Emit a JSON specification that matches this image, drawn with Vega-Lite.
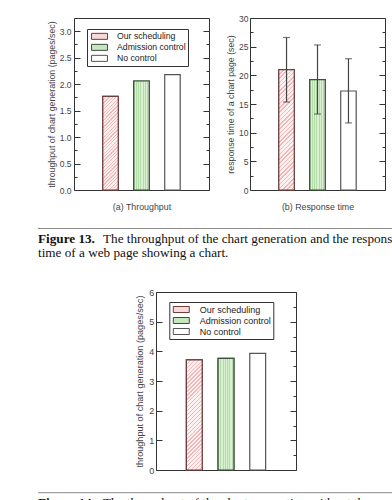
{
  "$schema": "https://vega.github.io/schema/vega-lite/v6.json",
  "padding": {"left": 37, "top": 13, "right": 0, "bottom": 0},
  "background": "white",
  "spacing": 15.5,
  "resolve": {"scale": {"fill": "independent", "stroke": "independent"}, "legend": {"fill": "independent"}},
  "vconcat": [
    {
      "hconcat": [
        {
          "width": 135, "height": 172,
          "data": {"values": [
            {"control": "Our scheduling", "throughput": 1.77},
            {"control": "Admission control", "throughput": 2.06},
            {"control": "No control", "throughput": 2.18}
          ]},
          "layer": [
            {
              "mark": {"type": "bar", "strokeWidth": 1.2},
              "encoding": {
                "x": {"field": "control", "type": "nominal", "sort": ["Our scheduling", "Admission control", "No control"],
                      "scale": {"paddingInner": 0.5, "paddingOuter": 0.93},
                      "axis": {"title": "(a) Throughput", "labels": false, "ticks": false, "domain": false, "titlePadding": 12, "titleFontSize": 8.85}},
                "y": {"field": "throughput", "type": "quantitative", "scale": {"domain": [0, 3.25], "nice": false},
                      "axis": {"orient": "left", "title": "throughput of chart generation (pages/sec)",
                               "values": [0, 0.25, 0.5, 0.75, 1, 1.25, 1.5, 1.75, 2, 2.25, 2.5, 2.75, 3],
                               "format": ".1f", "labelExpr": "datum.value % 0.5 === 0 ? datum.label : ''",
                               "tickSize": {"condition": {"test": "datum.value % 0.5 === 0", "value": -6}, "value": -3},
                               "labelPadding": 9, "labelFontSize": 8.5, "titleFontSize": 8.8, "titlePadding": 3}},
                "fill": {"field": "control", "type": "nominal",
                         "scale": {"domain": ["Our scheduling", "Admission control", "No control"], "range": ["#f9d8d8", "#c6e6bd", "#ffffff"]},
                         "legend": {"title": null, "orient": "none", "legendX": 13, "legendY": 11, "strokeColor": "#333", "padding": 2,
                                    "symbolType": "M-1,-0.375H1V0.375H-1Z", "symbolSize": 256, "symbolStrokeColor": "#333", "symbolStrokeWidth": 1,
                                    "symbolOffset": 2, "labelOffset": 9, "labelFontSize": 8.7, "clipHeight": 10.7, "rowPadding": 0, "fillColor": "white",
                                    "encode": {"symbols": {"update": {"fill": [
                                      {"test": "datum.value === 'Our scheduling'", "value": {"gradient": "linear", "x1": 0, "y1": 0, "x2": 1.2055, "y2": 0.4521, "stops": [
                                        {"offset": 0, "color": "#f2b8b8"}, {"offset": 0.0583, "color": "#f2b8b8"}, {"offset": 0.0583, "color": "#fdf1f1"}, {"offset": 0.1667, "color": "#fdf1f1"},
                                        {"offset": 0.1667, "color": "#f2b8b8"}, {"offset": 0.225, "color": "#f2b8b8"}, {"offset": 0.225, "color": "#fdf1f1"}, {"offset": 0.3333, "color": "#fdf1f1"},
                                        {"offset": 0.3333, "color": "#f2b8b8"}, {"offset": 0.3917, "color": "#f2b8b8"}, {"offset": 0.3917, "color": "#fdf1f1"}, {"offset": 0.5, "color": "#fdf1f1"},
                                        {"offset": 0.5, "color": "#f2b8b8"}, {"offset": 0.5583, "color": "#f2b8b8"}, {"offset": 0.5583, "color": "#fdf1f1"}, {"offset": 0.6667, "color": "#fdf1f1"},
                                        {"offset": 0.6667, "color": "#f2b8b8"}, {"offset": 0.725, "color": "#f2b8b8"}, {"offset": 0.725, "color": "#fdf1f1"}, {"offset": 0.8333, "color": "#fdf1f1"},
                                        {"offset": 0.8333, "color": "#f2b8b8"}, {"offset": 0.8917, "color": "#f2b8b8"}, {"offset": 0.8917, "color": "#fdf1f1"}, {"offset": 1, "color": "#fdf1f1"}]}},
                                      {"test": "datum.value === 'Admission control'", "value": {"gradient": "linear", "x1": 0, "y1": 0, "x2": 1, "y2": 0, "stops": [
                                        {"offset": 0, "color": "#b3dba8"}, {"offset": 0.0643, "color": "#b3dba8"}, {"offset": 0.0643, "color": "#d8f1d0"}, {"offset": 0.1429, "color": "#d8f1d0"},
                                        {"offset": 0.1429, "color": "#b3dba8"}, {"offset": 0.2071, "color": "#b3dba8"}, {"offset": 0.2071, "color": "#d8f1d0"}, {"offset": 0.2857, "color": "#d8f1d0"},
                                        {"offset": 0.2857, "color": "#b3dba8"}, {"offset": 0.35, "color": "#b3dba8"}, {"offset": 0.35, "color": "#d8f1d0"}, {"offset": 0.4286, "color": "#d8f1d0"},
                                        {"offset": 0.4286, "color": "#b3dba8"}, {"offset": 0.4929, "color": "#b3dba8"}, {"offset": 0.4929, "color": "#d8f1d0"}, {"offset": 0.5714, "color": "#d8f1d0"},
                                        {"offset": 0.5714, "color": "#b3dba8"}, {"offset": 0.6357, "color": "#b3dba8"}, {"offset": 0.6357, "color": "#d8f1d0"}, {"offset": 0.7143, "color": "#d8f1d0"},
                                        {"offset": 0.7143, "color": "#b3dba8"}, {"offset": 0.7786, "color": "#b3dba8"}, {"offset": 0.7786, "color": "#d8f1d0"}, {"offset": 0.8571, "color": "#d8f1d0"},
                                        {"offset": 0.8571, "color": "#b3dba8"}, {"offset": 0.9214, "color": "#b3dba8"}, {"offset": 0.9214, "color": "#d8f1d0"}, {"offset": 1, "color": "#d8f1d0"}]}},
                                      {"value": "#ffffff"}]}}}}},
                "stroke": {"field": "control", "type": "nominal",
                           "scale": {"domain": ["Our scheduling", "Admission control", "No control"], "range": ["#6b3f3f", "#3d4f3d", "#555555"]},
                           "legend": null}
              }
            },
            {
              "transform": [{"filter": "datum.control === 'Our scheduling'"}],
              "mark": {"type": "bar", "stroke": "#6b3f3f", "strokeWidth": 1.2, "fill": {"gradient": "linear", "x1": 0, "y1": 0, "x2": 0.1877, "y2": 1.1344, "stops": [
                {"offset": 0, "color": "#f2b8b8"}, {"offset": 0.0109, "color": "#f2b8b8"}, {"offset": 0.0109, "color": "#fdf1f1"}, {"offset": 0.03125, "color": "#fdf1f1"},
                {"offset": 0.03125, "color": "#f2b8b8"}, {"offset": 0.0422, "color": "#f2b8b8"}, {"offset": 0.0422, "color": "#fdf1f1"}, {"offset": 0.0625, "color": "#fdf1f1"},
                {"offset": 0.0625, "color": "#f2b8b8"}, {"offset": 0.0734, "color": "#f2b8b8"}, {"offset": 0.0734, "color": "#fdf1f1"}, {"offset": 0.09375, "color": "#fdf1f1"},
                {"offset": 0.09375, "color": "#f2b8b8"}, {"offset": 0.1047, "color": "#f2b8b8"}, {"offset": 0.1047, "color": "#fdf1f1"}, {"offset": 0.125, "color": "#fdf1f1"},
                {"offset": 0.125, "color": "#f2b8b8"}, {"offset": 0.1359, "color": "#f2b8b8"}, {"offset": 0.1359, "color": "#fdf1f1"}, {"offset": 0.15625, "color": "#fdf1f1"},
                {"offset": 0.15625, "color": "#f2b8b8"}, {"offset": 0.1672, "color": "#f2b8b8"}, {"offset": 0.1672, "color": "#fdf1f1"}, {"offset": 0.1875, "color": "#fdf1f1"},
                {"offset": 0.1875, "color": "#f2b8b8"}, {"offset": 0.1984, "color": "#f2b8b8"}, {"offset": 0.1984, "color": "#fdf1f1"}, {"offset": 0.21875, "color": "#fdf1f1"},
                {"offset": 0.21875, "color": "#f2b8b8"}, {"offset": 0.2297, "color": "#f2b8b8"}, {"offset": 0.2297, "color": "#fdf1f1"}, {"offset": 0.25, "color": "#fdf1f1"},
                {"offset": 0.25, "color": "#f2b8b8"}, {"offset": 0.2609, "color": "#f2b8b8"}, {"offset": 0.2609, "color": "#fdf1f1"}, {"offset": 0.28125, "color": "#fdf1f1"},
                {"offset": 0.28125, "color": "#f2b8b8"}, {"offset": 0.2922, "color": "#f2b8b8"}, {"offset": 0.2922, "color": "#fdf1f1"}, {"offset": 0.3125, "color": "#fdf1f1"},
                {"offset": 0.3125, "color": "#f2b8b8"}, {"offset": 0.3234, "color": "#f2b8b8"}, {"offset": 0.3234, "color": "#fdf1f1"}, {"offset": 0.34375, "color": "#fdf1f1"},
                {"offset": 0.34375, "color": "#f2b8b8"}, {"offset": 0.3547, "color": "#f2b8b8"}, {"offset": 0.3547, "color": "#fdf1f1"}, {"offset": 0.375, "color": "#fdf1f1"},
                {"offset": 0.375, "color": "#f2b8b8"}, {"offset": 0.3859, "color": "#f2b8b8"}, {"offset": 0.3859, "color": "#fdf1f1"}, {"offset": 0.40625, "color": "#fdf1f1"},
                {"offset": 0.40625, "color": "#f2b8b8"}, {"offset": 0.4172, "color": "#f2b8b8"}, {"offset": 0.4172, "color": "#fdf1f1"}, {"offset": 0.4375, "color": "#fdf1f1"},
                {"offset": 0.4375, "color": "#f2b8b8"}, {"offset": 0.4484, "color": "#f2b8b8"}, {"offset": 0.4484, "color": "#fdf1f1"}, {"offset": 0.46875, "color": "#fdf1f1"},
                {"offset": 0.46875, "color": "#f2b8b8"}, {"offset": 0.4797, "color": "#f2b8b8"}, {"offset": 0.4797, "color": "#fdf1f1"}, {"offset": 0.5, "color": "#fdf1f1"},
                {"offset": 0.5, "color": "#f2b8b8"}, {"offset": 0.5109, "color": "#f2b8b8"}, {"offset": 0.5109, "color": "#fdf1f1"}, {"offset": 0.53125, "color": "#fdf1f1"},
                {"offset": 0.53125, "color": "#f2b8b8"}, {"offset": 0.5422, "color": "#f2b8b8"}, {"offset": 0.5422, "color": "#fdf1f1"}, {"offset": 0.5625, "color": "#fdf1f1"},
                {"offset": 0.5625, "color": "#f2b8b8"}, {"offset": 0.5734, "color": "#f2b8b8"}, {"offset": 0.5734, "color": "#fdf1f1"}, {"offset": 0.59375, "color": "#fdf1f1"},
                {"offset": 0.59375, "color": "#f2b8b8"}, {"offset": 0.6047, "color": "#f2b8b8"}, {"offset": 0.6047, "color": "#fdf1f1"}, {"offset": 0.625, "color": "#fdf1f1"},
                {"offset": 0.625, "color": "#f2b8b8"}, {"offset": 0.6359, "color": "#f2b8b8"}, {"offset": 0.6359, "color": "#fdf1f1"}, {"offset": 0.65625, "color": "#fdf1f1"},
                {"offset": 0.65625, "color": "#f2b8b8"}, {"offset": 0.6672, "color": "#f2b8b8"}, {"offset": 0.6672, "color": "#fdf1f1"}, {"offset": 0.6875, "color": "#fdf1f1"},
                {"offset": 0.6875, "color": "#f2b8b8"}, {"offset": 0.6984, "color": "#f2b8b8"}, {"offset": 0.6984, "color": "#fdf1f1"}, {"offset": 0.71875, "color": "#fdf1f1"},
                {"offset": 0.71875, "color": "#f2b8b8"}, {"offset": 0.7297, "color": "#f2b8b8"}, {"offset": 0.7297, "color": "#fdf1f1"}, {"offset": 0.75, "color": "#fdf1f1"},
                {"offset": 0.75, "color": "#f2b8b8"}, {"offset": 0.7609, "color": "#f2b8b8"}, {"offset": 0.7609, "color": "#fdf1f1"}, {"offset": 0.78125, "color": "#fdf1f1"},
                {"offset": 0.78125, "color": "#f2b8b8"}, {"offset": 0.7922, "color": "#f2b8b8"}, {"offset": 0.7922, "color": "#fdf1f1"}, {"offset": 0.8125, "color": "#fdf1f1"},
                {"offset": 0.8125, "color": "#f2b8b8"}, {"offset": 0.8234, "color": "#f2b8b8"}, {"offset": 0.8234, "color": "#fdf1f1"}, {"offset": 0.84375, "color": "#fdf1f1"},
                {"offset": 0.84375, "color": "#f2b8b8"}, {"offset": 0.8547, "color": "#f2b8b8"}, {"offset": 0.8547, "color": "#fdf1f1"}, {"offset": 0.875, "color": "#fdf1f1"},
                {"offset": 0.875, "color": "#f2b8b8"}, {"offset": 0.8859, "color": "#f2b8b8"}, {"offset": 0.8859, "color": "#fdf1f1"}, {"offset": 0.90625, "color": "#fdf1f1"},
                {"offset": 0.90625, "color": "#f2b8b8"}, {"offset": 0.9172, "color": "#f2b8b8"}, {"offset": 0.9172, "color": "#fdf1f1"}, {"offset": 0.9375, "color": "#fdf1f1"},
                {"offset": 0.9375, "color": "#f2b8b8"}, {"offset": 0.9484, "color": "#f2b8b8"}, {"offset": 0.9484, "color": "#fdf1f1"}, {"offset": 0.96875, "color": "#fdf1f1"},
                {"offset": 0.96875, "color": "#f2b8b8"}, {"offset": 0.9797, "color": "#f2b8b8"}, {"offset": 0.9797, "color": "#fdf1f1"}, {"offset": 1, "color": "#fdf1f1"}]}},
              "encoding": {
                "x": {"field": "control", "type": "nominal", "sort": ["Our scheduling", "Admission control", "No control"],
                      "axis": {"title": "(a) Throughput", "labels": false, "ticks": false, "domain": false, "titlePadding": 12, "titleFontSize": 8.85}},
                "y": {"field": "throughput", "type": "quantitative", "axis": null}
              }
            },
            {
              "transform": [{"filter": "datum.control === 'Admission control'"}],
              "mark": {"type": "bar", "stroke": "#3d4f3d", "strokeWidth": 1.2, "fill": {"gradient": "linear", "x1": 0, "y1": 0, "x2": 1, "y2": 0, "stops": [
                {"offset": 0, "color": "#b3dba8"}, {"offset": 0.0643, "color": "#b3dba8"}, {"offset": 0.0643, "color": "#d8f1d0"}, {"offset": 0.1429, "color": "#d8f1d0"},
                {"offset": 0.1429, "color": "#b3dba8"}, {"offset": 0.2071, "color": "#b3dba8"}, {"offset": 0.2071, "color": "#d8f1d0"}, {"offset": 0.2857, "color": "#d8f1d0"},
                {"offset": 0.2857, "color": "#b3dba8"}, {"offset": 0.35, "color": "#b3dba8"}, {"offset": 0.35, "color": "#d8f1d0"}, {"offset": 0.4286, "color": "#d8f1d0"},
                {"offset": 0.4286, "color": "#b3dba8"}, {"offset": 0.4929, "color": "#b3dba8"}, {"offset": 0.4929, "color": "#d8f1d0"}, {"offset": 0.5714, "color": "#d8f1d0"},
                {"offset": 0.5714, "color": "#b3dba8"}, {"offset": 0.6357, "color": "#b3dba8"}, {"offset": 0.6357, "color": "#d8f1d0"}, {"offset": 0.7143, "color": "#d8f1d0"},
                {"offset": 0.7143, "color": "#b3dba8"}, {"offset": 0.7786, "color": "#b3dba8"}, {"offset": 0.7786, "color": "#d8f1d0"}, {"offset": 0.8571, "color": "#d8f1d0"},
                {"offset": 0.8571, "color": "#b3dba8"}, {"offset": 0.9214, "color": "#b3dba8"}, {"offset": 0.9214, "color": "#d8f1d0"}, {"offset": 1, "color": "#d8f1d0"}]}},
              "encoding": {
                "x": {"field": "control", "type": "nominal", "sort": ["Our scheduling", "Admission control", "No control"],
                      "axis": {"title": "(a) Throughput", "labels": false, "ticks": false, "domain": false, "titlePadding": 12, "titleFontSize": 8.85}},
                "y": {"field": "throughput", "type": "quantitative", "axis": null}
              }
            },
            {
              "mark": {"type": "point", "opacity": 0},
              "encoding": {
                "y": {"field": "throughput", "type": "quantitative",
                      "axis": {"orient": "right", "title": null, "labels": false,
                               "values": [0, 0.25, 0.5, 0.75, 1, 1.25, 1.5, 1.75, 2, 2.25, 2.5, 2.75, 3],
                               "tickSize": {"condition": {"test": "datum.value % 0.5 === 0", "value": -6}, "value": -3}}}
              }
            }
          ],
          "resolve": {"axis": {"y": "independent"}}
        },
        {
          "width": 135, "height": 172,
          "data": {"values": [
            {"control": "Our scheduling", "response": 21.0, "low": 15.35, "high": 26.6},
            {"control": "Admission control", "response": 19.25, "low": 13.25, "high": 25.3},
            {"control": "No control", "response": 17.27, "low": 11.7, "high": 22.9}
          ]},
          "layer": [
            {
              "mark": {"type": "bar", "strokeWidth": 1.2},
              "encoding": {
                "x": {"field": "control", "type": "nominal", "sort": ["Our scheduling", "Admission control", "No control"],
                      "scale": {"paddingInner": 0.5, "paddingOuter": 0.93},
                      "axis": {"title": "(b) Response time", "labels": false, "ticks": false, "domain": false, "titlePadding": 12, "titleFontSize": 8.85}},
                "y": {"field": "response", "type": "quantitative", "scale": {"domain": [0, 30], "nice": false},
                      "axis": {"orient": "left", "title": "response time of a chart page (sec)",
                               "values": [0, 2.5, 5, 7.5, 10, 12.5, 15, 17.5, 20, 22.5, 25, 27.5, 30],
                               "labelExpr": "datum.value % 5 === 0 ? datum.label : ''",
                               "tickSize": {"condition": {"test": "datum.value % 5 === 0", "value": -6}, "value": -3},
                               "labelPadding": 8, "labelFontSize": 8.5, "titleFontSize": 8.8, "titlePadding": 3}},
                "fill": {"field": "control", "type": "nominal",
                         "scale": {"domain": ["Our scheduling", "Admission control", "No control"], "range": ["#f9d8d8", "#c6e6bd", "#ffffff"]},
                         "legend": null},
                "stroke": {"field": "control", "type": "nominal",
                           "scale": {"domain": ["Our scheduling", "Admission control", "No control"], "range": ["#6b3f3f", "#3d4f3d", "#555555"]},
                           "legend": null}
              }
            },
            {
              "transform": [{"filter": "datum.control === 'Our scheduling'"}],
              "mark": {"type": "bar", "stroke": "#6b3f3f", "strokeWidth": 1.2, "fill": {"gradient": "linear", "x1": 0, "y1": 0, "x2": 0.143, "y2": 1.1103, "stops": [
                {"offset": 0, "color": "#f2b8b8"}, {"offset": 0.0109, "color": "#f2b8b8"}, {"offset": 0.0109, "color": "#fdf1f1"}, {"offset": 0.03125, "color": "#fdf1f1"},
                {"offset": 0.03125, "color": "#f2b8b8"}, {"offset": 0.0422, "color": "#f2b8b8"}, {"offset": 0.0422, "color": "#fdf1f1"}, {"offset": 0.0625, "color": "#fdf1f1"},
                {"offset": 0.0625, "color": "#f2b8b8"}, {"offset": 0.0734, "color": "#f2b8b8"}, {"offset": 0.0734, "color": "#fdf1f1"}, {"offset": 0.09375, "color": "#fdf1f1"},
                {"offset": 0.09375, "color": "#f2b8b8"}, {"offset": 0.1047, "color": "#f2b8b8"}, {"offset": 0.1047, "color": "#fdf1f1"}, {"offset": 0.125, "color": "#fdf1f1"},
                {"offset": 0.125, "color": "#f2b8b8"}, {"offset": 0.1359, "color": "#f2b8b8"}, {"offset": 0.1359, "color": "#fdf1f1"}, {"offset": 0.15625, "color": "#fdf1f1"},
                {"offset": 0.15625, "color": "#f2b8b8"}, {"offset": 0.1672, "color": "#f2b8b8"}, {"offset": 0.1672, "color": "#fdf1f1"}, {"offset": 0.1875, "color": "#fdf1f1"},
                {"offset": 0.1875, "color": "#f2b8b8"}, {"offset": 0.1984, "color": "#f2b8b8"}, {"offset": 0.1984, "color": "#fdf1f1"}, {"offset": 0.21875, "color": "#fdf1f1"},
                {"offset": 0.21875, "color": "#f2b8b8"}, {"offset": 0.2297, "color": "#f2b8b8"}, {"offset": 0.2297, "color": "#fdf1f1"}, {"offset": 0.25, "color": "#fdf1f1"},
                {"offset": 0.25, "color": "#f2b8b8"}, {"offset": 0.2609, "color": "#f2b8b8"}, {"offset": 0.2609, "color": "#fdf1f1"}, {"offset": 0.28125, "color": "#fdf1f1"},
                {"offset": 0.28125, "color": "#f2b8b8"}, {"offset": 0.2922, "color": "#f2b8b8"}, {"offset": 0.2922, "color": "#fdf1f1"}, {"offset": 0.3125, "color": "#fdf1f1"},
                {"offset": 0.3125, "color": "#f2b8b8"}, {"offset": 0.3234, "color": "#f2b8b8"}, {"offset": 0.3234, "color": "#fdf1f1"}, {"offset": 0.34375, "color": "#fdf1f1"},
                {"offset": 0.34375, "color": "#f2b8b8"}, {"offset": 0.3547, "color": "#f2b8b8"}, {"offset": 0.3547, "color": "#fdf1f1"}, {"offset": 0.375, "color": "#fdf1f1"},
                {"offset": 0.375, "color": "#f2b8b8"}, {"offset": 0.3859, "color": "#f2b8b8"}, {"offset": 0.3859, "color": "#fdf1f1"}, {"offset": 0.40625, "color": "#fdf1f1"},
                {"offset": 0.40625, "color": "#f2b8b8"}, {"offset": 0.4172, "color": "#f2b8b8"}, {"offset": 0.4172, "color": "#fdf1f1"}, {"offset": 0.4375, "color": "#fdf1f1"},
                {"offset": 0.4375, "color": "#f2b8b8"}, {"offset": 0.4484, "color": "#f2b8b8"}, {"offset": 0.4484, "color": "#fdf1f1"}, {"offset": 0.46875, "color": "#fdf1f1"},
                {"offset": 0.46875, "color": "#f2b8b8"}, {"offset": 0.4797, "color": "#f2b8b8"}, {"offset": 0.4797, "color": "#fdf1f1"}, {"offset": 0.5, "color": "#fdf1f1"},
                {"offset": 0.5, "color": "#f2b8b8"}, {"offset": 0.5109, "color": "#f2b8b8"}, {"offset": 0.5109, "color": "#fdf1f1"}, {"offset": 0.53125, "color": "#fdf1f1"},
                {"offset": 0.53125, "color": "#f2b8b8"}, {"offset": 0.5422, "color": "#f2b8b8"}, {"offset": 0.5422, "color": "#fdf1f1"}, {"offset": 0.5625, "color": "#fdf1f1"},
                {"offset": 0.5625, "color": "#f2b8b8"}, {"offset": 0.5734, "color": "#f2b8b8"}, {"offset": 0.5734, "color": "#fdf1f1"}, {"offset": 0.59375, "color": "#fdf1f1"},
                {"offset": 0.59375, "color": "#f2b8b8"}, {"offset": 0.6047, "color": "#f2b8b8"}, {"offset": 0.6047, "color": "#fdf1f1"}, {"offset": 0.625, "color": "#fdf1f1"},
                {"offset": 0.625, "color": "#f2b8b8"}, {"offset": 0.6359, "color": "#f2b8b8"}, {"offset": 0.6359, "color": "#fdf1f1"}, {"offset": 0.65625, "color": "#fdf1f1"},
                {"offset": 0.65625, "color": "#f2b8b8"}, {"offset": 0.6672, "color": "#f2b8b8"}, {"offset": 0.6672, "color": "#fdf1f1"}, {"offset": 0.6875, "color": "#fdf1f1"},
                {"offset": 0.6875, "color": "#f2b8b8"}, {"offset": 0.6984, "color": "#f2b8b8"}, {"offset": 0.6984, "color": "#fdf1f1"}, {"offset": 0.71875, "color": "#fdf1f1"},
                {"offset": 0.71875, "color": "#f2b8b8"}, {"offset": 0.7297, "color": "#f2b8b8"}, {"offset": 0.7297, "color": "#fdf1f1"}, {"offset": 0.75, "color": "#fdf1f1"},
                {"offset": 0.75, "color": "#f2b8b8"}, {"offset": 0.7609, "color": "#f2b8b8"}, {"offset": 0.7609, "color": "#fdf1f1"}, {"offset": 0.78125, "color": "#fdf1f1"},
                {"offset": 0.78125, "color": "#f2b8b8"}, {"offset": 0.7922, "color": "#f2b8b8"}, {"offset": 0.7922, "color": "#fdf1f1"}, {"offset": 0.8125, "color": "#fdf1f1"},
                {"offset": 0.8125, "color": "#f2b8b8"}, {"offset": 0.8234, "color": "#f2b8b8"}, {"offset": 0.8234, "color": "#fdf1f1"}, {"offset": 0.84375, "color": "#fdf1f1"},
                {"offset": 0.84375, "color": "#f2b8b8"}, {"offset": 0.8547, "color": "#f2b8b8"}, {"offset": 0.8547, "color": "#fdf1f1"}, {"offset": 0.875, "color": "#fdf1f1"},
                {"offset": 0.875, "color": "#f2b8b8"}, {"offset": 0.8859, "color": "#f2b8b8"}, {"offset": 0.8859, "color": "#fdf1f1"}, {"offset": 0.90625, "color": "#fdf1f1"},
                {"offset": 0.90625, "color": "#f2b8b8"}, {"offset": 0.9172, "color": "#f2b8b8"}, {"offset": 0.9172, "color": "#fdf1f1"}, {"offset": 0.9375, "color": "#fdf1f1"},
                {"offset": 0.9375, "color": "#f2b8b8"}, {"offset": 0.9484, "color": "#f2b8b8"}, {"offset": 0.9484, "color": "#fdf1f1"}, {"offset": 0.96875, "color": "#fdf1f1"},
                {"offset": 0.96875, "color": "#f2b8b8"}, {"offset": 0.9797, "color": "#f2b8b8"}, {"offset": 0.9797, "color": "#fdf1f1"}, {"offset": 1, "color": "#fdf1f1"}]}},
              "encoding": {
                "x": {"field": "control", "type": "nominal", "sort": ["Our scheduling", "Admission control", "No control"],
                      "axis": {"title": "(b) Response time", "labels": false, "ticks": false, "domain": false, "titlePadding": 12, "titleFontSize": 8.85}},
                "y": {"field": "response", "type": "quantitative", "axis": null}
              }
            },
            {
              "transform": [{"filter": "datum.control === 'Admission control'"}],
              "mark": {"type": "bar", "stroke": "#3d4f3d", "strokeWidth": 1.2, "fill": {"gradient": "linear", "x1": 0, "y1": 0, "x2": 1, "y2": 0, "stops": [
                {"offset": 0, "color": "#b3dba8"}, {"offset": 0.0643, "color": "#b3dba8"}, {"offset": 0.0643, "color": "#d8f1d0"}, {"offset": 0.1429, "color": "#d8f1d0"},
                {"offset": 0.1429, "color": "#b3dba8"}, {"offset": 0.2071, "color": "#b3dba8"}, {"offset": 0.2071, "color": "#d8f1d0"}, {"offset": 0.2857, "color": "#d8f1d0"},
                {"offset": 0.2857, "color": "#b3dba8"}, {"offset": 0.35, "color": "#b3dba8"}, {"offset": 0.35, "color": "#d8f1d0"}, {"offset": 0.4286, "color": "#d8f1d0"},
                {"offset": 0.4286, "color": "#b3dba8"}, {"offset": 0.4929, "color": "#b3dba8"}, {"offset": 0.4929, "color": "#d8f1d0"}, {"offset": 0.5714, "color": "#d8f1d0"},
                {"offset": 0.5714, "color": "#b3dba8"}, {"offset": 0.6357, "color": "#b3dba8"}, {"offset": 0.6357, "color": "#d8f1d0"}, {"offset": 0.7143, "color": "#d8f1d0"},
                {"offset": 0.7143, "color": "#b3dba8"}, {"offset": 0.7786, "color": "#b3dba8"}, {"offset": 0.7786, "color": "#d8f1d0"}, {"offset": 0.8571, "color": "#d8f1d0"},
                {"offset": 0.8571, "color": "#b3dba8"}, {"offset": 0.9214, "color": "#b3dba8"}, {"offset": 0.9214, "color": "#d8f1d0"}, {"offset": 1, "color": "#d8f1d0"}]}},
              "encoding": {
                "x": {"field": "control", "type": "nominal", "sort": ["Our scheduling", "Admission control", "No control"],
                      "axis": {"title": "(b) Response time", "labels": false, "ticks": false, "domain": false, "titlePadding": 12, "titleFontSize": 8.85}},
                "y": {"field": "response", "type": "quantitative", "axis": null}
              }
            },
            {
              "mark": {"type": "rule", "color": "#444", "strokeWidth": 1.2},
              "encoding": {
                "x": {"field": "control", "type": "nominal", "sort": ["Our scheduling", "Admission control", "No control"],
                      "axis": {"title": "(b) Response time", "labels": false, "ticks": false, "domain": false, "titlePadding": 12, "titleFontSize": 8.85}},
                "y": {"field": "low", "type": "quantitative", "axis": null},
                "y2": {"field": "high"}
              }
            },
            {
              "mark": {"type": "tick", "color": "#444", "thickness": 1.2, "size": 7},
              "encoding": {
                "x": {"field": "control", "type": "nominal", "sort": ["Our scheduling", "Admission control", "No control"],
                      "axis": {"title": "(b) Response time", "labels": false, "ticks": false, "domain": false, "titlePadding": 12, "titleFontSize": 8.85}},
                "y": {"field": "low", "type": "quantitative", "axis": null}
              }
            },
            {
              "mark": {"type": "tick", "color": "#444", "thickness": 1.2, "size": 7},
              "encoding": {
                "x": {"field": "control", "type": "nominal", "sort": ["Our scheduling", "Admission control", "No control"],
                      "axis": {"title": "(b) Response time", "labels": false, "ticks": false, "domain": false, "titlePadding": 12, "titleFontSize": 8.85}},
                "y": {"field": "high", "type": "quantitative", "axis": null}
              }
            },
            {
              "mark": {"type": "point", "opacity": 0},
              "encoding": {
                "y": {"field": "response", "type": "quantitative",
                      "axis": {"orient": "right", "title": null, "labels": false,
                               "values": [0, 2.5, 5, 7.5, 10, 12.5, 15, 17.5, 20, 22.5, 25, 27.5, 30],
                               "tickSize": {"condition": {"test": "datum.value % 5 === 0", "value": -6}, "value": -3}}}
              }
            }
          ],
          "resolve": {"axis": {"y": "independent"}}
        }
      ],
      "spacing": 41,
      "bounds": "flush"
    },
    {
      "width": 319, "height": 42.2,
      "view": {"stroke": null},
      "data": {"values": [{"bold": "Figure 13.", "line1": "The throughput of the chart generation and the response", "line2": "time of a web page showing a chart."}]},
      "layer": [
        {"mark": {"type": "rule", "color": "#8c8c8c", "strokeWidth": 1},
         "encoding": {"x": {"value": -36}, "x2": {"value": 319}, "y": {"value": 0}}},
        {"mark": {"type": "text", "font": "Liberation Serif", "fontSize": 13.2, "fontWeight": "bold", "align": "left", "baseline": "alphabetic", "color": "#111", "dx": -36},
         "encoding": {"text": {"field": "bold"}, "x": {"value": 0}, "y": {"value": 14.5}}},
        {"mark": {"type": "text", "font": "Liberation Serif", "fontSize": 13.2, "align": "left", "baseline": "alphabetic", "color": "#111", "dx": 29},
         "encoding": {"text": {"field": "line1"}, "x": {"value": 0}, "y": {"value": 14.5}}},
        {"mark": {"type": "text", "font": "Liberation Serif", "fontSize": 13.2, "align": "left", "baseline": "alphabetic", "color": "#111", "dx": -36},
         "encoding": {"text": {"field": "line2"}, "x": {"value": 0}, "y": {"value": 28}}}
      ]
    },
    {
      "hconcat": [
        {
          "width": 41, "height": 1,
          "view": {"stroke": null},
          "data": {"values": [{}]},
          "mark": {"type": "point", "opacity": 0},
          "encoding": {}
        },
        {
          "width": 140, "height": 178,
          "data": {"values": [
            {"control": "Our scheduling", "throughput": 3.71},
            {"control": "Admission control", "throughput": 3.76},
            {"control": "No control", "throughput": 3.93}
          ]},
          "layer": [
            {
              "mark": {"type": "bar", "strokeWidth": 1.2},
              "encoding": {
                "x": {"field": "control", "type": "nominal", "sort": ["Our scheduling", "Admission control", "No control"],
                      "scale": {"paddingInner": 0.5, "paddingOuter": 0.958},
                      "axis": null},
                "y": {"field": "throughput", "type": "quantitative", "scale": {"domain": [0, 6], "nice": false},
                      "axis": {"orient": "left", "title": "throughput of chart generation (pages/sec)",
                               "values": [0, 0.5, 1, 1.5, 2, 2.5, 3, 3.5, 4, 4.5, 5, 5.5, 6],
                               "format": "d", "labelExpr": "datum.value % 1 === 0 ? format(datum.value, 'd') : ''",
                               "tickSize": {"condition": {"test": "datum.value % 1 === 0", "value": -6}, "value": -3},
                               "labelPadding": 8.3, "labelFontSize": 9, "titleFontSize": 9.1, "titlePadding": 4}},
                "fill": {"field": "control", "type": "nominal",
                         "scale": {"domain": ["Our scheduling", "Admission control", "No control"], "range": ["#f9d8d8", "#c6e6bd", "#ffffff"]},
                         "legend": {"title": null, "orient": "none", "legendX": 95.3, "legendY": 10, "strokeColor": "#333", "padding": 2,
                                    "symbolType": "M-1,-0.375H1V0.375H-1Z", "symbolSize": 256, "symbolStrokeColor": "#333", "symbolStrokeWidth": 1,
                                    "symbolOffset": 1.5, "labelOffset": 10, "labelFontSize": 9, "clipHeight": 11, "rowPadding": 0, "fillColor": "white",
                                    "encode": {"symbols": {"update": {"fill": [
                                      {"test": "datum.value === 'Our scheduling'", "value": {"gradient": "linear", "x1": 0, "y1": 0, "x2": 1.2055, "y2": 0.4521, "stops": [
                                        {"offset": 0, "color": "#f2b8b8"}, {"offset": 0.0583, "color": "#f2b8b8"}, {"offset": 0.0583, "color": "#fdf1f1"}, {"offset": 0.1667, "color": "#fdf1f1"},
                                        {"offset": 0.1667, "color": "#f2b8b8"}, {"offset": 0.225, "color": "#f2b8b8"}, {"offset": 0.225, "color": "#fdf1f1"}, {"offset": 0.3333, "color": "#fdf1f1"},
                                        {"offset": 0.3333, "color": "#f2b8b8"}, {"offset": 0.3917, "color": "#f2b8b8"}, {"offset": 0.3917, "color": "#fdf1f1"}, {"offset": 0.5, "color": "#fdf1f1"},
                                        {"offset": 0.5, "color": "#f2b8b8"}, {"offset": 0.5583, "color": "#f2b8b8"}, {"offset": 0.5583, "color": "#fdf1f1"}, {"offset": 0.6667, "color": "#fdf1f1"},
                                        {"offset": 0.6667, "color": "#f2b8b8"}, {"offset": 0.725, "color": "#f2b8b8"}, {"offset": 0.725, "color": "#fdf1f1"}, {"offset": 0.8333, "color": "#fdf1f1"},
                                        {"offset": 0.8333, "color": "#f2b8b8"}, {"offset": 0.8917, "color": "#f2b8b8"}, {"offset": 0.8917, "color": "#fdf1f1"}, {"offset": 1, "color": "#fdf1f1"}]}},
                                      {"test": "datum.value === 'Admission control'", "value": {"gradient": "linear", "x1": 0, "y1": 0, "x2": 1, "y2": 0, "stops": [
                                        {"offset": 0, "color": "#b3dba8"}, {"offset": 0.0643, "color": "#b3dba8"}, {"offset": 0.0643, "color": "#d8f1d0"}, {"offset": 0.1429, "color": "#d8f1d0"},
                                        {"offset": 0.1429, "color": "#b3dba8"}, {"offset": 0.2071, "color": "#b3dba8"}, {"offset": 0.2071, "color": "#d8f1d0"}, {"offset": 0.2857, "color": "#d8f1d0"},
                                        {"offset": 0.2857, "color": "#b3dba8"}, {"offset": 0.35, "color": "#b3dba8"}, {"offset": 0.35, "color": "#d8f1d0"}, {"offset": 0.4286, "color": "#d8f1d0"},
                                        {"offset": 0.4286, "color": "#b3dba8"}, {"offset": 0.4929, "color": "#b3dba8"}, {"offset": 0.4929, "color": "#d8f1d0"}, {"offset": 0.5714, "color": "#d8f1d0"},
                                        {"offset": 0.5714, "color": "#b3dba8"}, {"offset": 0.6357, "color": "#b3dba8"}, {"offset": 0.6357, "color": "#d8f1d0"}, {"offset": 0.7143, "color": "#d8f1d0"},
                                        {"offset": 0.7143, "color": "#b3dba8"}, {"offset": 0.7786, "color": "#b3dba8"}, {"offset": 0.7786, "color": "#d8f1d0"}, {"offset": 0.8571, "color": "#d8f1d0"},
                                        {"offset": 0.8571, "color": "#b3dba8"}, {"offset": 0.9214, "color": "#b3dba8"}, {"offset": 0.9214, "color": "#d8f1d0"}, {"offset": 1, "color": "#d8f1d0"}]}},
                                      {"value": "#ffffff"}]}}}}},
                "stroke": {"field": "control", "type": "nominal",
                           "scale": {"domain": ["Our scheduling", "Admission control", "No control"], "range": ["#6b3f3f", "#3d4f3d", "#555555"]},
                           "legend": null}
              }
            },
            {
              "transform": [{"filter": "datum.control === 'Our scheduling'"}],
              "mark": {"type": "bar", "stroke": "#6b3f3f", "strokeWidth": 1.2, "fill": {"gradient": "linear", "x1": 0, "y1": 0, "x2": 0.1614, "y2": 1.1208, "stops": [
                {"offset": 0, "color": "#f2b8b8"}, {"offset": 0.0109, "color": "#f2b8b8"}, {"offset": 0.0109, "color": "#fdf1f1"}, {"offset": 0.03125, "color": "#fdf1f1"},
                {"offset": 0.03125, "color": "#f2b8b8"}, {"offset": 0.0422, "color": "#f2b8b8"}, {"offset": 0.0422, "color": "#fdf1f1"}, {"offset": 0.0625, "color": "#fdf1f1"},
                {"offset": 0.0625, "color": "#f2b8b8"}, {"offset": 0.0734, "color": "#f2b8b8"}, {"offset": 0.0734, "color": "#fdf1f1"}, {"offset": 0.09375, "color": "#fdf1f1"},
                {"offset": 0.09375, "color": "#f2b8b8"}, {"offset": 0.1047, "color": "#f2b8b8"}, {"offset": 0.1047, "color": "#fdf1f1"}, {"offset": 0.125, "color": "#fdf1f1"},
                {"offset": 0.125, "color": "#f2b8b8"}, {"offset": 0.1359, "color": "#f2b8b8"}, {"offset": 0.1359, "color": "#fdf1f1"}, {"offset": 0.15625, "color": "#fdf1f1"},
                {"offset": 0.15625, "color": "#f2b8b8"}, {"offset": 0.1672, "color": "#f2b8b8"}, {"offset": 0.1672, "color": "#fdf1f1"}, {"offset": 0.1875, "color": "#fdf1f1"},
                {"offset": 0.1875, "color": "#f2b8b8"}, {"offset": 0.1984, "color": "#f2b8b8"}, {"offset": 0.1984, "color": "#fdf1f1"}, {"offset": 0.21875, "color": "#fdf1f1"},
                {"offset": 0.21875, "color": "#f2b8b8"}, {"offset": 0.2297, "color": "#f2b8b8"}, {"offset": 0.2297, "color": "#fdf1f1"}, {"offset": 0.25, "color": "#fdf1f1"},
                {"offset": 0.25, "color": "#f2b8b8"}, {"offset": 0.2609, "color": "#f2b8b8"}, {"offset": 0.2609, "color": "#fdf1f1"}, {"offset": 0.28125, "color": "#fdf1f1"},
                {"offset": 0.28125, "color": "#f2b8b8"}, {"offset": 0.2922, "color": "#f2b8b8"}, {"offset": 0.2922, "color": "#fdf1f1"}, {"offset": 0.3125, "color": "#fdf1f1"},
                {"offset": 0.3125, "color": "#f2b8b8"}, {"offset": 0.3234, "color": "#f2b8b8"}, {"offset": 0.3234, "color": "#fdf1f1"}, {"offset": 0.34375, "color": "#fdf1f1"},
                {"offset": 0.34375, "color": "#f2b8b8"}, {"offset": 0.3547, "color": "#f2b8b8"}, {"offset": 0.3547, "color": "#fdf1f1"}, {"offset": 0.375, "color": "#fdf1f1"},
                {"offset": 0.375, "color": "#f2b8b8"}, {"offset": 0.3859, "color": "#f2b8b8"}, {"offset": 0.3859, "color": "#fdf1f1"}, {"offset": 0.40625, "color": "#fdf1f1"},
                {"offset": 0.40625, "color": "#f2b8b8"}, {"offset": 0.4172, "color": "#f2b8b8"}, {"offset": 0.4172, "color": "#fdf1f1"}, {"offset": 0.4375, "color": "#fdf1f1"},
                {"offset": 0.4375, "color": "#f2b8b8"}, {"offset": 0.4484, "color": "#f2b8b8"}, {"offset": 0.4484, "color": "#fdf1f1"}, {"offset": 0.46875, "color": "#fdf1f1"},
                {"offset": 0.46875, "color": "#f2b8b8"}, {"offset": 0.4797, "color": "#f2b8b8"}, {"offset": 0.4797, "color": "#fdf1f1"}, {"offset": 0.5, "color": "#fdf1f1"},
                {"offset": 0.5, "color": "#f2b8b8"}, {"offset": 0.5109, "color": "#f2b8b8"}, {"offset": 0.5109, "color": "#fdf1f1"}, {"offset": 0.53125, "color": "#fdf1f1"},
                {"offset": 0.53125, "color": "#f2b8b8"}, {"offset": 0.5422, "color": "#f2b8b8"}, {"offset": 0.5422, "color": "#fdf1f1"}, {"offset": 0.5625, "color": "#fdf1f1"},
                {"offset": 0.5625, "color": "#f2b8b8"}, {"offset": 0.5734, "color": "#f2b8b8"}, {"offset": 0.5734, "color": "#fdf1f1"}, {"offset": 0.59375, "color": "#fdf1f1"},
                {"offset": 0.59375, "color": "#f2b8b8"}, {"offset": 0.6047, "color": "#f2b8b8"}, {"offset": 0.6047, "color": "#fdf1f1"}, {"offset": 0.625, "color": "#fdf1f1"},
                {"offset": 0.625, "color": "#f2b8b8"}, {"offset": 0.6359, "color": "#f2b8b8"}, {"offset": 0.6359, "color": "#fdf1f1"}, {"offset": 0.65625, "color": "#fdf1f1"},
                {"offset": 0.65625, "color": "#f2b8b8"}, {"offset": 0.6672, "color": "#f2b8b8"}, {"offset": 0.6672, "color": "#fdf1f1"}, {"offset": 0.6875, "color": "#fdf1f1"},
                {"offset": 0.6875, "color": "#f2b8b8"}, {"offset": 0.6984, "color": "#f2b8b8"}, {"offset": 0.6984, "color": "#fdf1f1"}, {"offset": 0.71875, "color": "#fdf1f1"},
                {"offset": 0.71875, "color": "#f2b8b8"}, {"offset": 0.7297, "color": "#f2b8b8"}, {"offset": 0.7297, "color": "#fdf1f1"}, {"offset": 0.75, "color": "#fdf1f1"},
                {"offset": 0.75, "color": "#f2b8b8"}, {"offset": 0.7609, "color": "#f2b8b8"}, {"offset": 0.7609, "color": "#fdf1f1"}, {"offset": 0.78125, "color": "#fdf1f1"},
                {"offset": 0.78125, "color": "#f2b8b8"}, {"offset": 0.7922, "color": "#f2b8b8"}, {"offset": 0.7922, "color": "#fdf1f1"}, {"offset": 0.8125, "color": "#fdf1f1"},
                {"offset": 0.8125, "color": "#f2b8b8"}, {"offset": 0.8234, "color": "#f2b8b8"}, {"offset": 0.8234, "color": "#fdf1f1"}, {"offset": 0.84375, "color": "#fdf1f1"},
                {"offset": 0.84375, "color": "#f2b8b8"}, {"offset": 0.8547, "color": "#f2b8b8"}, {"offset": 0.8547, "color": "#fdf1f1"}, {"offset": 0.875, "color": "#fdf1f1"},
                {"offset": 0.875, "color": "#f2b8b8"}, {"offset": 0.8859, "color": "#f2b8b8"}, {"offset": 0.8859, "color": "#fdf1f1"}, {"offset": 0.90625, "color": "#fdf1f1"},
                {"offset": 0.90625, "color": "#f2b8b8"}, {"offset": 0.9172, "color": "#f2b8b8"}, {"offset": 0.9172, "color": "#fdf1f1"}, {"offset": 0.9375, "color": "#fdf1f1"},
                {"offset": 0.9375, "color": "#f2b8b8"}, {"offset": 0.9484, "color": "#f2b8b8"}, {"offset": 0.9484, "color": "#fdf1f1"}, {"offset": 0.96875, "color": "#fdf1f1"},
                {"offset": 0.96875, "color": "#f2b8b8"}, {"offset": 0.9797, "color": "#f2b8b8"}, {"offset": 0.9797, "color": "#fdf1f1"}, {"offset": 1, "color": "#fdf1f1"}]}},
              "encoding": {
                "x": {"field": "control", "type": "nominal", "sort": ["Our scheduling", "Admission control", "No control"], "axis": null},
                "y": {"field": "throughput", "type": "quantitative", "axis": null}
              }
            },
            {
              "transform": [{"filter": "datum.control === 'Admission control'"}],
              "mark": {"type": "bar", "stroke": "#3d4f3d", "strokeWidth": 1.2, "fill": {"gradient": "linear", "x1": 0, "y1": 0, "x2": 1, "y2": 0, "stops": [
                {"offset": 0, "color": "#b3dba8"}, {"offset": 0.0643, "color": "#b3dba8"}, {"offset": 0.0643, "color": "#d8f1d0"}, {"offset": 0.1429, "color": "#d8f1d0"},
                {"offset": 0.1429, "color": "#b3dba8"}, {"offset": 0.2071, "color": "#b3dba8"}, {"offset": 0.2071, "color": "#d8f1d0"}, {"offset": 0.2857, "color": "#d8f1d0"},
                {"offset": 0.2857, "color": "#b3dba8"}, {"offset": 0.35, "color": "#b3dba8"}, {"offset": 0.35, "color": "#d8f1d0"}, {"offset": 0.4286, "color": "#d8f1d0"},
                {"offset": 0.4286, "color": "#b3dba8"}, {"offset": 0.4929, "color": "#b3dba8"}, {"offset": 0.4929, "color": "#d8f1d0"}, {"offset": 0.5714, "color": "#d8f1d0"},
                {"offset": 0.5714, "color": "#b3dba8"}, {"offset": 0.6357, "color": "#b3dba8"}, {"offset": 0.6357, "color": "#d8f1d0"}, {"offset": 0.7143, "color": "#d8f1d0"},
                {"offset": 0.7143, "color": "#b3dba8"}, {"offset": 0.7786, "color": "#b3dba8"}, {"offset": 0.7786, "color": "#d8f1d0"}, {"offset": 0.8571, "color": "#d8f1d0"},
                {"offset": 0.8571, "color": "#b3dba8"}, {"offset": 0.9214, "color": "#b3dba8"}, {"offset": 0.9214, "color": "#d8f1d0"}, {"offset": 1, "color": "#d8f1d0"}]}},
              "encoding": {
                "x": {"field": "control", "type": "nominal", "sort": ["Our scheduling", "Admission control", "No control"], "axis": null},
                "y": {"field": "throughput", "type": "quantitative", "axis": null}
              }
            },
            {
              "mark": {"type": "point", "opacity": 0},
              "encoding": {
                "y": {"field": "throughput", "type": "quantitative",
                      "axis": {"orient": "right", "title": null, "labels": false,
                               "values": [0, 0.5, 1, 1.5, 2, 2.5, 3, 3.5, 4, 4.5, 5, 5.5, 6],
                               "tickSize": {"condition": {"test": "datum.value % 1 === 0", "value": -6}, "value": -3}}}
              }
            }
          ],
          "resolve": {"axis": {"y": "independent"}}
        }
      ],
      "spacing": 41,
      "bounds": "flush"
    },
    {
      "width": 319, "height": 20,
      "view": {"stroke": null},
      "data": {"values": [{"bold": "Figure 14.", "line1": "The throughput of the chart generation without the"}]},
      "layer": [
        {"mark": {"type": "rule", "color": "#8c8c8c", "strokeWidth": 1},
         "encoding": {"x": {"value": -36}, "x2": {"value": 319}, "y": {"value": 1.2}}},
        {"mark": {"type": "text", "font": "Liberation Serif", "fontSize": 13.2, "fontWeight": "bold", "align": "left", "baseline": "alphabetic", "color": "#111", "dx": -36},
         "encoding": {"text": {"field": "bold"}, "x": {"value": 0}, "y": {"value": 15.8}}},
        {"mark": {"type": "text", "font": "Liberation Serif", "fontSize": 13.2, "align": "left", "baseline": "alphabetic", "color": "#111", "dx": 29},
         "encoding": {"text": {"field": "line1"}, "x": {"value": 0}, "y": {"value": 15.8}}}
      ]
    }
  ],
  "config": {
    "font": "Liberation Sans",
    "view": {"stroke": "#333", "strokeWidth": 1},
    "axis": {"grid": false, "domain": false, "tickColor": "#333", "tickWidth": 1, "labelColor": "#444", "titleColor": "#444", "titleFontWeight": "normal", "labelFont": "Liberation Sans", "titleFont": "Liberation Sans"},
    "legend": {"labelFont": "Liberation Sans", "labelColor": "#222"}
  }
}
